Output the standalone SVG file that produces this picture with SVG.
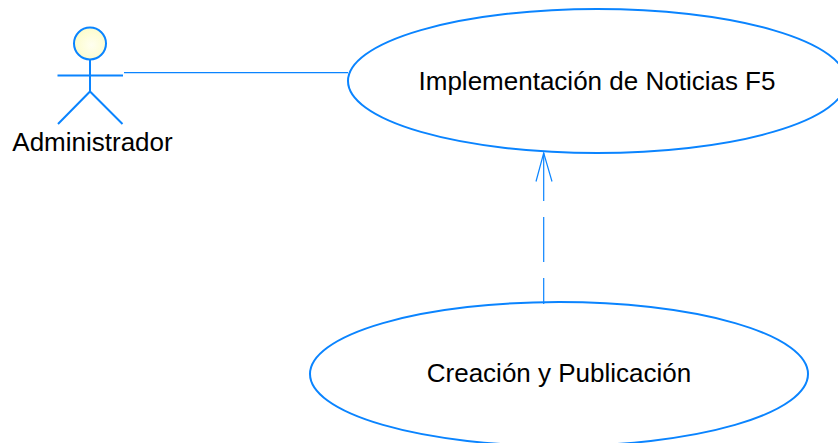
<svg xmlns="http://www.w3.org/2000/svg" width="838" height="443" viewBox="0 0 838 443">
<style>
.s{fill:none;stroke:#0A84FF;stroke-width:2}
.c{fill:none;stroke:#0A84FF;stroke-width:1.2}
text{font-family:"Liberation Sans",Arial,sans-serif;font-size:26px;fill:#000}
</style>
<defs><radialGradient id="g" cx=".55" cy=".55" r=".6"><stop offset="0" stop-color="#FFFFF0"/><stop offset="1" stop-color="#FCFCC8"/></radialGradient></defs>
<rect width="838" height="443" fill="#fff"/>
<g id="connectors">
<line class="c" x1="124" y1="72.700" x2="348" y2="72.700"/>
<path class="c" d="M543.700 304V278M543.700 262V217M543.700 201V153"/>
<path class="c" d="M536 181.500L543.700 153L552 181.500"/>
</g>
<g id="actor">
<circle cx="90" cy="43.500" r="16" fill="url(#g)" stroke="#0A84FF" stroke-width="2"/>
<path class="s" d="M90 60V91.500M57.500 75.500H123M58 124L90 91.500L122.500 124"/>
<text x="92.500" y="151" text-anchor="middle">Administrador</text>
</g>
<g id="uc1">
<ellipse class="s" cx="597" cy="81" rx="249" ry="72"/>
<text x="597" y="90" text-anchor="middle">Implementación de Noticias F5</text>
</g>
<g id="uc2">
<ellipse class="s" cx="559" cy="374" rx="249" ry="72"/>
<text x="559" y="382" text-anchor="middle">Creación y Publicación</text>
</g>
</svg>
